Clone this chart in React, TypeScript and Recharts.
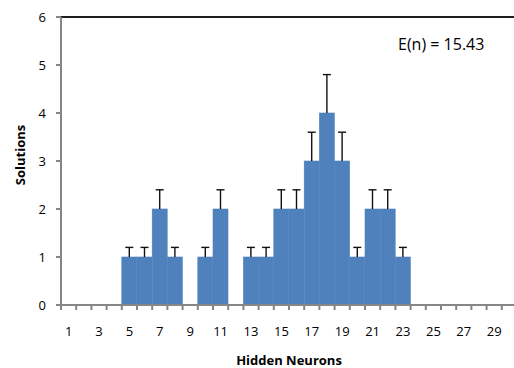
import React from 'react';
import { BarChart, Bar, XAxis, YAxis, ReferenceLine } from 'recharts';

const neurons = [1, 2, 3, 4, 5, 6, 7, 8, 9, 10, 11, 12, 13, 14, 15, 16, 17, 18, 19, 20, 21, 22, 23, 24, 25, 26, 27, 28, 29, 30];
const solutions = [0, 0, 0, 0, 1, 1, 2, 1, 0, 1, 2, 0, 1, 1, 2, 2, 3, 4, 3, 1, 2, 2, 1, 0, 0, 0, 0, 0, 0, 0];
const errors = [0, 0, 0, 0, 0.2, 0.2, 0.4, 0.2, 0, 0.2, 0.4, 0, 0.2, 0.2, 0.4, 0.4, 0.6, 0.8, 0.6, 0.2, 0.4, 0.4, 0.2, 0, 0, 0, 0, 0, 0, 0];
const yTicks = [0, 1, 2, 3, 4, 5, 6];
const xLabels = [1, 3, 5, 7, 9, 11, 13, 15, 17, 19, 21, 23, 25, 27, 29];

const data = neurons.map((n, i) => ({ n, solutions: solutions[i], err: errors[i] }));

const CHART_W = 525;
const MARGIN = { top: 17, right: 8, left: 0, bottom: 0 };
const Y_AXIS_W = 61;
// half a bin, so tick marks sit on the bin edges like the original
const HALF_BIN = (CHART_W - MARGIN.left - MARGIN.right - Y_AXIS_W) / neurons.length / 2;

const AXIS = '#868686';
const FONT = "'Open Sans', sans-serif";

function BarWithError(props: any) {
  const { x, y, width, height, payload, fill } = props;
  if (!height || height <= 0) return null;
  const cx = x + width / 2;
  const top = y - (payload.err * height) / payload.solutions;
  return (
    <g>
      <rect x={x} y={y} width={width} height={height} fill={fill} stroke={fill} strokeWidth={0.6} />
      {payload.err > 0 && (
        <g stroke="#111" strokeWidth={1.4}>
          <line x1={cx} x2={cx} y1={y} y2={top} />
          <line x1={cx - 4} x2={cx + 4} y1={top} y2={top} />
        </g>
      )}
    </g>
  );
}

function XTick(props: any) {
  const { x, y, payload, index } = props;
  const v = payload.value;
  const last = index === neurons.length - 1;
  return (
    <g>
      <line x1={x - HALF_BIN} x2={x - HALF_BIN} y1={y} y2={y + 5} stroke={AXIS} strokeWidth={2} />
      {last && <line x1={x + HALF_BIN} x2={x + HALF_BIN} y1={y} y2={y + 5} stroke={AXIS} strokeWidth={2} />}
      {xLabels.includes(v) && (
        <text x={x} y={y + 31} textAnchor="middle" fontSize={13} fill="#000" fontFamily={FONT}>
          {v}
        </text>
      )}
    </g>
  );
}

function YTitle(props: any) {
  const { viewBox } = props;
  const cx = viewBox.x + 25;
  const cy = viewBox.y + viewBox.height / 2 - 6;
  return (
    <text
      x={cx}
      y={cy}
      transform={`rotate(-90 ${cx} ${cy})`}
      textAnchor="middle"
      fontSize={13}
      fontWeight="bold"
      fill="#000"
      fontFamily={FONT}
    >
      Solutions
    </text>
  );
}

export default function App() {
  return (
    <div
      style={{
        position: 'absolute',
        top: 0,
        left: 0,
        width: 514,
        height: 368,
        overflow: 'hidden',
        background: '#fff',
        fontFamily: FONT,
      }}
    >
      <BarChart
        width={CHART_W}
        height={368}
        data={data}
        margin={MARGIN}
        barCategoryGap={0}
        barGap={0}
      >
        <XAxis
          dataKey="n"
          interval={0}
          tick={<XTick />}
          tickLine={false}
          tickSize={0}
          tickMargin={0}
          height={63}
          axisLine={{ stroke: AXIS, strokeWidth: 2 }}
          label={{
            value: 'Hidden Neurons',
            position: 'insideBottom',
            offset: 3,
            style: { fontSize: 13, fontWeight: 'bold', fill: '#000', fontFamily: FONT },
          }}
        />
        <YAxis
          domain={[0, 6]}
          ticks={yTicks}
          interval={0}
          width={Y_AXIS_W}
          tickSize={5}
          tickMargin={10}
          axisLine={{ stroke: AXIS, strokeWidth: 2 }}
          tickLine={{ stroke: AXIS, strokeWidth: 2 }}
          tick={{ fontSize: 13, fill: '#000', fontFamily: FONT }}
          label={<YTitle />}
        />
        <ReferenceLine y={6} stroke="#1e1e1e" strokeWidth={2} />
        <Bar dataKey="solutions" fill="#4F81BD" shape={<BarWithError />} isAnimationActive={false} />
      </BarChart>
      <div
        style={{
          position: 'absolute',
          left: 398,
          top: 36,
          fontSize: 16,
          lineHeight: '16px',
          color: '#000',
          whiteSpace: 'nowrap',
        }}
      >
        E(n) = 15.43
      </div>
    </div>
  );
}
